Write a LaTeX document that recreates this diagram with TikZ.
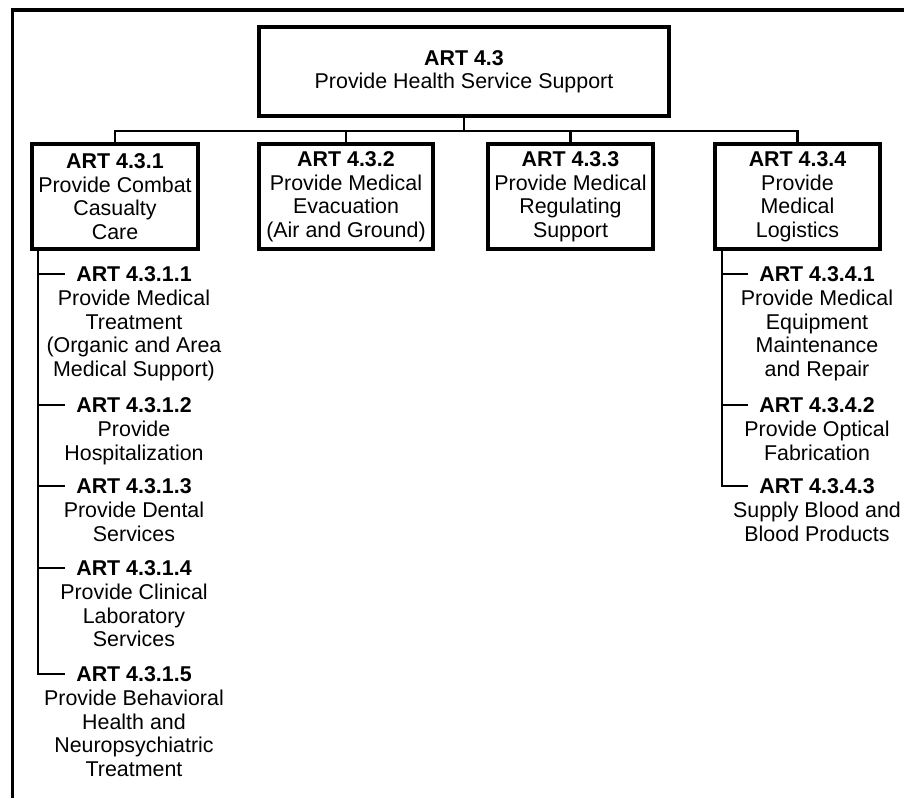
\documentclass[tikz,border=0pt]{standalone}
\usepackage{fontspec}
\setmainfont{Liberation Sans}
\usetikzlibrary{positioning}
\tikzset{
  artbox/.style={draw, line width=3.2pt, align=center, inner sep=0pt, font={\fontsize{21.4pt}{23.5pt}\selectfont}},
  arttitle/.style={inner ysep=0pt, inner xsep=11pt, font={\fontsize{21.4pt}{23.5pt}\selectfont\bfseries}},
  artdesc/.style={inner sep=0pt, align=center, font={\fontsize{21.4pt}{23.5pt}\selectfont}},
  link/.style={line width=2.8pt}
}
\begin{document}
\begin{tikzpicture}[x=1pt,y=-1pt]
        \useasboundingbox (0,0) rectangle (904,798);
        \draw[line width=3.2pt] (12.5,798) -- (12.5,10) -- (904,10);

        \node[artbox, minimum width=410pt, minimum height=89pt] (art43) at (464,71.5) {\textbf{ART 4.3}\\Provide Health Service Support};

        \node[artbox, minimum width=166pt, minimum height=105pt] (art431) at (115,196.5) {\textbf{ART 4.3.1}\\Provide Combat\\Casualty\\Care};
        \node[artbox, minimum width=174pt, minimum height=105pt] (art432) at (346,196.5) {\textbf{ART 4.3.2}\\Provide Medical\\Evacuation\\(Air and Ground)};
        \node[artbox, minimum width=165pt, minimum height=105pt] (art433) at (570.5,196.5) {\textbf{ART 4.3.3}\\Provide Medical\\Regulating\\Support};
        \node[artbox, minimum width=165pt, minimum height=105pt] (art434) at (797.5,196.5) {\textbf{ART 4.3.4}\\Provide\\Medical\\Logistics};

        \coordinate (bus) at (464,131);
        \draw[link] (art43.south) -- (bus);
        \draw[link] (art431.north) |- (bus) -| (art434.north);
        \draw[link] (art432.north) -- (art432.north |- bus);
        \draw[link] (art433.north) -- (art433.north |- bus);

        \node[arttitle] (art4311) at (134,274) {ART 4.3.1.1};
        \node[artdesc, below=15.8pt of art4311.center] (art4311d) {Provide Medical\\Treatment\\(Organic and Area\\Medical Support)};
        \node[arttitle] (art4312) at (134,405) {ART 4.3.1.2};
        \node[artdesc, below=15.8pt of art4312.center] (art4312d) {Provide\\Hospitalization};
        \node[arttitle] (art4313) at (134,486) {ART 4.3.1.3};
        \node[artdesc, below=15.8pt of art4313.center] (art4313d) {Provide Dental\\Services};
        \node[arttitle] (art4314) at (134,568) {ART 4.3.1.4};
        \node[artdesc, below=15.8pt of art4314.center] (art4314d) {Provide Clinical\\Laboratory\\Services};
        \node[arttitle] (art4315) at (134,674) {ART 4.3.1.5};
        \node[artdesc, below=15.8pt of art4315.center] (art4315d) {Provide Behavioral\\Health and\\Neuropsychiatric\\Treatment};

        \node[arttitle] (art4341) at (817,274) {ART 4.3.4.1};
        \node[artdesc, below=15.8pt of art4341.center] (art4341d) {Provide Medical\\Equipment\\Maintenance\\and Repair};
        \node[arttitle] (art4342) at (817,405) {ART 4.3.4.2};
        \node[artdesc, below=15.8pt of art4342.center] (art4342d) {Provide Optical\\Fabrication};
        \node[arttitle] (art4343) at (817,486) {ART 4.3.4.3};
        \node[artdesc, below=15.8pt of art4343.center] (art4343d) {Supply Blood and\\Blood Products};

        \coordinate (lt) at (38,249);
        \draw[link] (lt) |- (art4315.west);
        \draw[link] (art4311.west) -- (art4311.west -| lt);
        \draw[link] (art4312.west) -- (art4312.west -| lt);
        \draw[link] (art4313.west) -- (art4313.west -| lt);
        \draw[link] (art4314.west) -- (art4314.west -| lt);

        \coordinate (rt) at (722,249);
        \draw[link] (rt) |- (art4343.west);
        \draw[link] (art4341.west) -- (art4341.west -| rt);
        \draw[link] (art4342.west) -- (art4342.west -| rt);
\end{tikzpicture}
\end{document}
